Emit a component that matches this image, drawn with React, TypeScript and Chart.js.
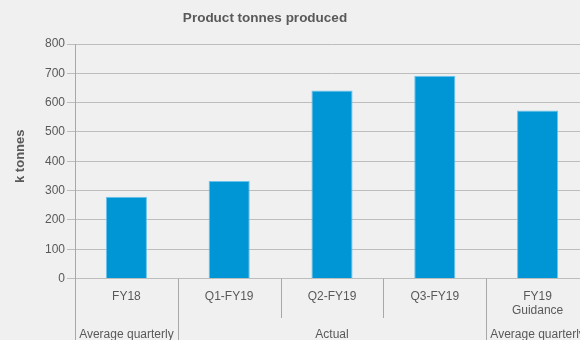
import React, { useEffect, useRef } from "react";
import { Chart, registerables } from "chart.js";

Chart.register(...registerables);

const categories: string[][] = [["FY18"], ["Q1-FY19"], ["Q2-FY19"], ["Q3-FY19"], ["FY19", "Guidance"]];
const tonnes: number[] = [279, 333, 641, 692, 573];
const groupLabels: string[] = ["Average quarterly", "Actual", "Average quarterly"];
const groupStart: number[] = [0, 1, 4];
const groupEnd: number[] = [0, 3, 4];
const chartTitle = "Product tonnes produced";
const yTitle = "k tonnes";
const yMax = 800;
const yStep = 100;

const FONT = "'Liberation Sans', Arial, sans-serif";
const TEXT = "#595959";
const LINE = "#a8a8a8";

const decor = {
  id: "decor",
  afterDraw(chart: any) {
    const ctx = chart.ctx;
    const x = chart.scales.x;
    const area = chart.chartArea;
    const n = categories.length;
    const w = (area.right - area.left) / n;
    ctx.save();
    // title
    ctx.fillStyle = TEXT;
    ctx.font = `bold 13.5px ${FONT}`;
    ctx.textAlign = "center";
    ctx.textBaseline = "middle";
    ctx.fillText(chartTitle, 265, 18);
    // y title
    ctx.save();
    ctx.translate(20, (area.top + area.bottom) / 2 - 5);
    ctx.rotate(-Math.PI / 2);
    ctx.font = `bold 13px ${FONT}`;
    ctx.fillText(yTitle, 0, 0);
    ctx.restore();
    // separators
    const groupBounds = new Set<number>();
    groupStart.forEach((s) => groupBounds.add(s));
    groupEnd.forEach((e) => groupBounds.add(e + 1));
    ctx.strokeStyle = LINE;
    ctx.lineWidth = 1;
    for (let i = 0; i <= n; i++) {
      const px = Math.round(area.left + i * w) + 0.5;
      const yEnd = groupBounds.has(i) ? 340 : 318;
      ctx.beginPath();
      ctx.moveTo(px, area.bottom);
      ctx.lineTo(px, yEnd);
      ctx.stroke();
    }
    // category labels
    ctx.fillStyle = TEXT;
    ctx.font = `12px ${FONT}`;
    ctx.textAlign = "center";
    ctx.textBaseline = "alphabetic";
    categories.forEach((lines, i) => {
      const cx = x.getPixelForValue(i);
      lines.forEach((t, j) => ctx.fillText(t, cx, 299.5 + j * 14));
    });
    // group labels
    groupLabels.forEach((g, k) => {
      const cx = (x.getPixelForValue(groupStart[k]) + x.getPixelForValue(groupEnd[k])) / 2;
      ctx.fillText(g, cx, 337.5);
    });
    ctx.restore();
  },
};

export default function App() {
  const ref = useRef<HTMLCanvasElement | null>(null);
  useEffect(() => {
    if (!ref.current) return;
    const chart = new Chart(ref.current, {
      type: "bar",
      data: {
        labels: categories.map((c) => c.join(" ")),
        datasets: [
          {
            data: tonnes,
            backgroundColor: "#0096d6",
            borderColor: "#6cc3ea",
            borderWidth: 1,
            barPercentage: 0.4,
            categoryPercentage: 1,
          },
        ],
      },
      options: {
        animation: false,
        responsive: false,
        maintainAspectRatio: false,
        layout: { padding: { top: 44, right: 11, left: 0, bottom: 0 } },
        plugins: { legend: { display: false }, title: { display: false }, tooltip: { enabled: false } },
        scales: {
          x: {
            offset: true,
            grid: { display: false },
            border: { display: false },
            ticks: { display: false },
            afterFit: (s: any) => {
              s.height = 61.5;
            },
          },
          y: {
            min: 0,
            max: yMax,
            ticks: { stepSize: yStep, color: TEXT, font: { family: FONT, size: 12 }, padding: 2 },
            grid: { color: "#bdbdbd", tickColor: "#bdbdbd", tickLength: 8, lineWidth: 1 },
            border: { display: true, color: LINE },
            afterFit: (s: any) => {
              s.width = 75;
            },
          },
        },
      },
      plugins: [decor],
    });
    return () => chart.destroy();
  }, []);
  return (
    <div style={{ position: "absolute", left: 0, top: 0, width: 580, height: 340, overflow: "hidden", background: "#f0f0f0" }}>
      <canvas ref={ref} width={600} height={340} style={{ display: "block", width: 600, height: 340 }} />
    </div>
  );
}
